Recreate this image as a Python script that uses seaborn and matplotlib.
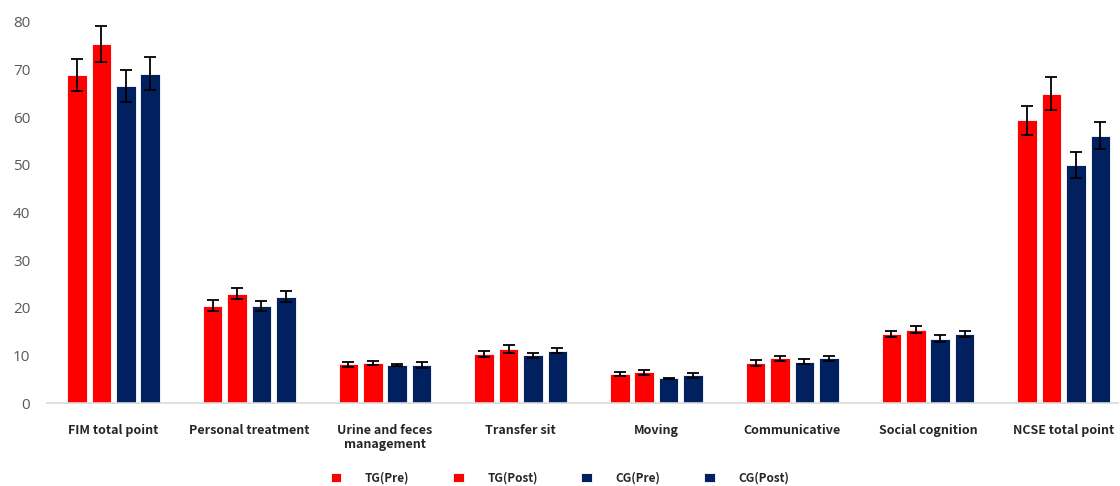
import numpy as np
import pandas as pd
import matplotlib
matplotlib.use("Agg")
import matplotlib.pyplot as plt
import seaborn as sns

# Outcome measures (x-axis categories)
items = ["FIM total point", "Personal treatment", "Urine and feces\nmanagement",
         "Transfer sit", "Moving", "Communicative", "Social cognition", "NCSE total point"]
groups = ["TG(Pre)", "TG(Post)", "CG(Pre)", "CG(Post)"]

# Mean scores per group
tg_pre = [68.8, 20.4, 8.1, 10.3, 6.1, 8.4, 14.5, 59.3]
tg_post = [75.3, 22.9, 8.4, 11.3, 6.4, 9.35, 15.4, 64.9]
cg_pre = [66.5, 20.4, 8.0, 10.0, 5.2, 8.7, 13.5, 50.0]
cg_post = [69.1, 22.3, 8.0, 11.0, 5.8, 9.35, 14.5, 56.1]

# Standard errors per group
tg_pre_err = [3.4, 1.15, 0.6, 0.6, 0.35, 0.55, 0.6, 3.1]
tg_post_err = [3.7, 1.15, 0.5, 0.8, 0.55, 0.5, 0.8, 3.5]
cg_pre_err = [3.4, 1.1, 0.25, 0.55, 0.1, 0.5, 0.7, 2.7]
cg_post_err = [3.4, 1.15, 0.6, 0.5, 0.5, 0.5, 0.7, 2.9]

means = [tg_pre, tg_post, cg_pre, cg_post]
errors = [tg_pre_err, tg_post_err, cg_pre_err, cg_post_err]
colors = ["#FF0000", "#FF0000", "#002060", "#002060"]

df = pd.DataFrame({
    "item": np.repeat([items], len(groups), axis=0).ravel(),
    "group": np.repeat(groups, len(items)),
    "value": np.concatenate(means),
})

sns.set_theme(style="white")
plt.rcParams["font.family"] = ["Noto Sans CJK KR", "DejaVu Sans"]

fig = plt.figure(figsize=(11.2, 4.86), dpi=100)
ax = fig.add_axes([47 / 1120, 83 / 486, (1118 - 47) / 1120, (403 - 21.7) / 486])

sns.barplot(data=df, x="item", y="value", hue="group", order=items, hue_order=groups,
            palette=colors, width=0.72, gap=0.2, errorbar=None, ax=ax,
            edgecolor="white", linewidth=0.6, saturation=1)

# Error bars on top of each bar
for cont, err in zip(ax.containers, errors):
    xs = [b.get_x() + b.get_width() / 2 for b in cont]
    ys = [b.get_height() for b in cont]
    ax.errorbar(xs, ys, yerr=err, fmt="none", ecolor="black", elinewidth=1.3,
                capsize=4, capthick=1.3, zorder=5)

ax.set_ylim(0, 80)
ax.set_xlim(-0.49, 7.40)
ax.set_yticks(np.arange(0, 81, 10))
ax.set_xlabel("")
ax.set_ylabel("")
for s in ["top", "right", "left"]:
    ax.spines[s].set_visible(False)
ax.spines["bottom"].set_color("#D9D9D9")
ax.spines["bottom"].set_linewidth(1.2)
ax.tick_params(axis="y", length=0, pad=12, labelsize=11, labelcolor="#595959")
ax.tick_params(axis="x", length=0, pad=15, labelsize=9)
for lab in ax.get_xticklabels():
    lab.set_fontweight("bold")
    lab.set_linespacing(1.15)
for lab in ax.get_yticklabels():
    lab.set_family(["Open Sans", "DejaVu Sans"])

handles, labels = ax.get_legend_handles_labels()
ax.get_legend().remove()
fig.legend(handles, labels, loc="center", bbox_to_anchor=(560 / 1120, 1 - 478 / 486),
           ncol=4, frameon=False, handlelength=0.9, handleheight=0.9,
           handletextpad=2.0, columnspacing=3.7,
           prop={"weight": "bold", "size": 8.5})

fig.savefig("out.png", dpi=100)
